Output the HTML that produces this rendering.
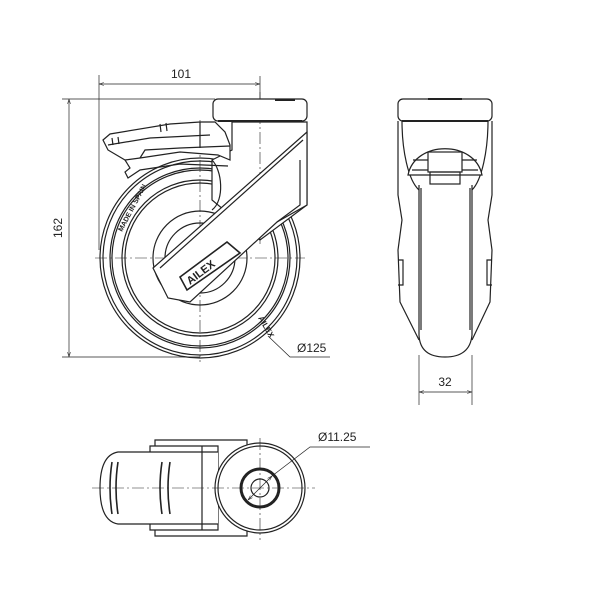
<!DOCTYPE html>
<html><head><style>html,body{margin:0;padding:0;background:#fff}svg{display:block}</style></head>
<body>
<svg width="600" height="600" viewBox="0 0 600 600" xmlns="http://www.w3.org/2000/svg" font-family="Liberation Sans, sans-serif">
<defs>
<marker id="a" viewBox="0 0 10 10" refX="10" refY="5" markerWidth="7" markerHeight="7" orient="auto-start-reverse"><path d="M0,2 L10,5 L0,8" fill="none" stroke="#333" stroke-width="1.2"/></marker>
</defs>
<g fill="none" stroke="#222" stroke-width="1.2">
<line x1="99" y1="75" x2="99" y2="250" stroke-width="0.7"/>
<line x1="260" y1="76" x2="260" y2="100" stroke-width="0.7"/>
<line x1="99" y1="84" x2="260" y2="84" stroke-width="0.7" marker-start="url(#a)" marker-end="url(#a)"/>
<line x1="62" y1="99" x2="215" y2="99" stroke-width="0.7"/>
<line x1="62" y1="357" x2="200" y2="357" stroke-width="0.7"/>
<line x1="69" y1="99" x2="69" y2="357" stroke-width="0.7" marker-start="url(#a)" marker-end="url(#a)"/>
<circle cx="200" cy="258" r="100"/>
<circle cx="200" cy="258" r="97"/>
<circle cx="200" cy="258" r="90"/>
<circle cx="200" cy="258" r="88"/>
<circle cx="200" cy="258" r="78"/>
<circle cx="200" cy="258" r="75"/>
<circle cx="200" cy="258" r="47"/>
<circle cx="200" cy="258" r="35"/>
<line x1="95" y1="258" x2="305" y2="258" stroke-width="0.6" stroke-dasharray="12,3,2,3"/>
<line x1="200" y1="120" x2="200" y2="362" stroke-width="0.6" stroke-dasharray="12,3,2,3"/>
<path d="M212,160 L232,150 L232,122 L307,122 L307,205 L260,240 L212,200 Z" fill="#fff"/>
<path d="M212,160 C222,170 225,200 212,210" />
<line x1="300" y1="152" x2="300" y2="205"/>
<line x1="260" y1="92" x2="260" y2="245" stroke-width="0.6" stroke-dasharray="12,3,2,3"/>
<rect x="213" y="99" width="94" height="22" rx="5" fill="#fff"/>
<line x1="218" y1="121" x2="302" y2="121" stroke-width="2"/>
<line x1="275" y1="100" x2="295" y2="100" stroke-width="2"/>
<path d="M307,132 L307,205 L277,222 L190,302 L168,298 L153,268 Z" fill="#fff"/>
<path d="M303,140 L160,268"/>
<path d="M300,160 L300,205 L277,222"/>
<path d="M180,277 L227,242 L240,253 L187,290 Z" fill="#fff" stroke-width="1.6"/>
<text x="0" y="0" font-size="11" font-weight="bold" fill="#222" stroke="none" transform="translate(190,285) rotate(-37)">AILEX</text>
<text x="0" y="0" font-size="7" font-weight="bold" fill="#222" stroke="none" transform="translate(122,232) rotate(-62)">MADE IN SPAIN</text>
<text x="0" y="0" font-size="8" font-weight="bold" fill="#222" stroke="none" transform="translate(258,318) rotate(60)">AILEX</text>
<path d="M103,140 L110,134 L170,124 L200,122 L215,122 L225,132 L230,145 L230,160 L218,155 L180,152 L140,158 L125,160 L108,150 Z" fill="#fff"/>
<path d="M140,158 L145,150 L180,148 L230,146"/>
<path d="M108,145 L150,138 L210,135"/>
<line x1="200" y1="122" x2="200" y2="148"/>
<path d="M125,160 L130,168 L125,172 L128,178 L140,170 L180,164 L228,166"/>
<path d="M160,124 l1,8 M166,123 l1,8 M112,138 l1,7 M118,137 l1,7"/>
<path d="M268,336 L290,357 L330,357" stroke-width="0.7"/>
<rect x="398" y="99" width="94" height="22" rx="5" fill="#fff"/>
<line x1="402" y1="121" x2="488" y2="121" stroke-width="2"/>
<line x1="428" y1="99" x2="462" y2="99" stroke-width="2"/>
<path d="M398,121 L398,195 L402,220 L398,250 L400,302 L419,340 M492,121 L492,195 L488,220 L492,250 L490,302 L472,340"/>
<path d="M402,121 C402,150 408,180 419,190 M488,121 C488,150 482,180 472,190"/>
<path d="M408,175 C415,140 475,140 482,175 Z" fill="#fff"/>
<path d="M413,160 L477,160 M412,170 L478,170"/>
<rect x="428" y="152" width="34" height="20" fill="#fff"/>
<rect x="430" y="172" width="30" height="12"/>
<path d="M419,185 L419,335 Q420,357 445,357 Q470,357 472,335 L472,185"/>
<line x1="421" y1="188" x2="421" y2="330"/>
<line x1="470" y1="188" x2="470" y2="330"/>
<path d="M398,260 l5,0 l0,25 l-5,0 M492,260 l-5,0 l0,25 l5,0"/>
<line x1="419" y1="355" x2="419" y2="405" stroke-width="0.7"/>
<line x1="472" y1="355" x2="472" y2="405" stroke-width="0.7"/>
<line x1="419" y1="392" x2="472" y2="392" stroke-width="0.7" marker-start="url(#a)" marker-end="url(#a)"/>
<path d="M155,440 L247,440 L247,536 L155,536 Z" fill="#fff"/>
<path d="M150,446 L218,446 L218,530 L150,530 Z" fill="#fff"/>
<path d="M218,452 L118,452 Q100,455 100,488 Q100,521 118,524 L218,524" fill="#fff"/>
<line x1="202" y1="446" x2="202" y2="530"/>
<path d="M112,462 Q108,488 112,514 M118,462 Q114,488 118,514 M162,462 Q158,488 162,514 M170,462 Q166,488 170,514" stroke-width="1.6"/>
<circle cx="260" cy="488" r="45" fill="#fff"/>
<circle cx="260" cy="488" r="42"/>
<circle cx="260" cy="488" r="19" stroke-width="3"/>
<circle cx="260" cy="488" r="9"/>
<line x1="92" y1="488" x2="315" y2="488" stroke-width="0.6" stroke-dasharray="12,3,2,3"/>
<line x1="260" y1="438" x2="260" y2="540" stroke-width="0.6" stroke-dasharray="12,3,2,3"/>
<path d="M248,500 L272,476" stroke-width="0.7" marker-start="url(#a)" marker-end="url(#a)"/>
<path d="M272,476 L310,447 L370,447" stroke-width="0.7"/>
</g>
<g fill="#222" font-size="12">
<text x="181" y="78" text-anchor="middle">101</text>
<text x="0" y="0" text-anchor="middle" transform="translate(62,228) rotate(-90)">162</text>
<text x="297" y="352">Ø125</text>
<text x="445" y="386" text-anchor="middle">32</text>
<text x="318" y="441">Ø11.25</text>
</g>
</svg>
</body></html>
